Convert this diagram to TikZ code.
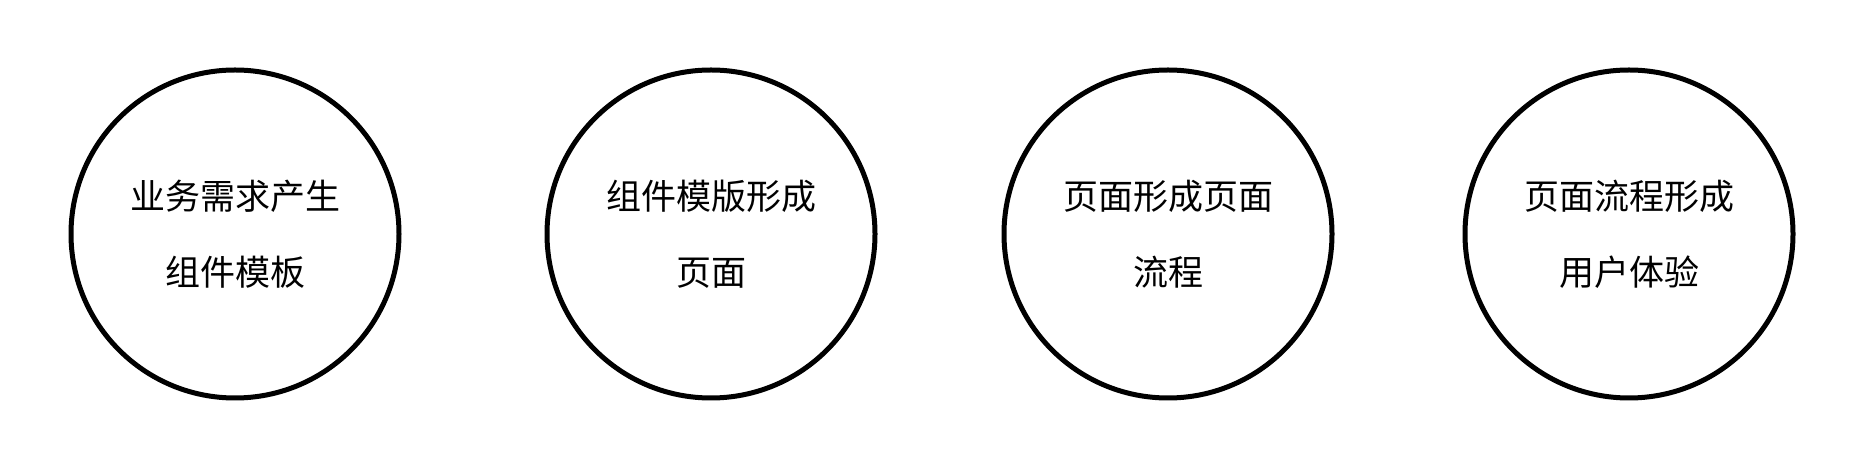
\documentclass[tikz,border=0pt]{standalone}
\usepackage{fontspec}
\newfontfamily\cjk{Noto Sans CJK SC}
\tikzset{
  stage/.style={circle, draw=black, line width=5pt, minimum size=328pt, inner sep=0pt,
    align=center, font=\cjk\fontsize{35pt}{76pt}\selectfont}
}
\begin{document}
\begin{tikzpicture}[x=1pt,y=1pt]
\useasboundingbox (0,0) rectangle (1850,460);
\node[stage] (s1) at (235,226) {业务需求产生\\组件模板};
\node[stage] (s2) at (711,226) {组件模版形成\\页面};
\node[stage] (s3) at (1168,226) {页面形成页面\\流程};
\node[stage] (s4) at (1629,226) {页面流程形成\\用户体验};
\end{tikzpicture}
\end{document}
